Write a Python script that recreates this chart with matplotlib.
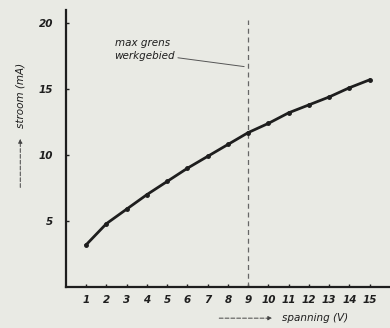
import matplotlib
matplotlib.use('Agg')
import matplotlib.pyplot as plt

# current vs voltage
spanning = [1, 2, 3, 4, 5, 6, 7, 8, 9, 10, 11, 12, 13, 14, 15]
stroom = [3.2, 4.8, 5.9, 7.0, 8.0, 9.0, 9.9, 10.8, 11.7, 12.4, 13.2, 13.8, 14.4, 15.1, 15.7]
y_ticks = [5, 10, 15, 20]
max_grens = 9

bg = '#e9eae4'
ink = '#1e1e1e'

fig = plt.figure(figsize=(3.9, 3.28), dpi=100, facecolor=bg)
ax = fig.add_axes([0.169, 0.125, 0.831, 0.845], facecolor=bg)

ax.plot(spanning, stroom, color=ink, lw=2.0, marker='o', ms=2.5, zorder=3)
ax.axvline(max_grens, color='#666666', lw=0.9, ls=(0, (4, 3)), ymax=0.965)

ax.set_xlim(0, 16)
ax.set_ylim(0, 21)
ax.set_xticks(spanning)
ax.set_yticks(y_ticks)
ax.tick_params(direction='in', length=2, width=1, colors=ink, labelsize=7.5)
ax.tick_params(axis='x', pad=6)
ax.tick_params(axis='y', pad=9)
for lab in ax.get_xticklabels() + ax.get_yticklabels():
    lab.set_style('italic')
    lab.set_fontweight('bold')

for s in ['top', 'right']:
    ax.spines[s].set_visible(False)
for s in ['left', 'bottom']:
    ax.spines[s].set_linewidth(1.6)
    ax.spines[s].set_color(ink)

ax.annotate('max grens\nwerkgebied', xy=(max_grens - 0.2, 16.7), xytext=(2.4, 18.0),
            fontsize=7.5, style='italic', color=ink, va='center', linespacing=1.35,
            arrowprops=dict(arrowstyle='-', color='#555555', lw=0.7, shrinkA=0, shrinkB=0,
                            relpos=(1.0, 0.15)))

# axis labels with arrows
fig.text(0.052, 0.71, 'stroom (mA)', rotation=90, fontsize=7.5, style='italic',
         color=ink, ha='center', va='center')
fig.patches.append(matplotlib.patches.FancyArrowPatch(
    (0.052, 0.42), (0.052, 0.585), transform=fig.transFigure, arrowstyle='-|>',
    mutation_scale=6, color='#444444', lw=0.7, ls=(0, (4, 2))))
fig.text(0.808, 0.03, 'spanning (V)', fontsize=7.5, style='italic', color=ink,
         ha='center', va='center')
fig.patches.append(matplotlib.patches.FancyArrowPatch(
    (0.555, 0.03), (0.705, 0.03), transform=fig.transFigure, arrowstyle='-|>',
    mutation_scale=6, color='#444444', lw=0.7, ls=(0, (4, 2))))

fig.savefig('out.png', dpi=100, facecolor=bg)
